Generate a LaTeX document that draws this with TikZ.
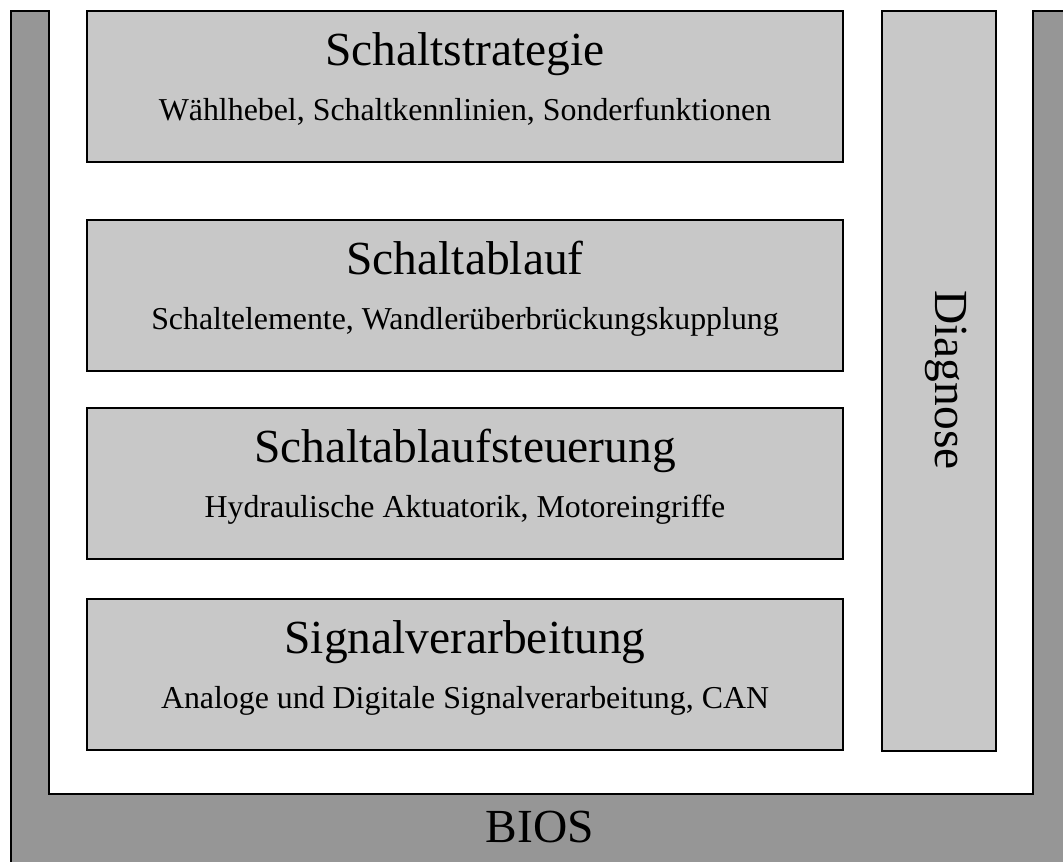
\documentclass[tikz,border=0pt]{standalone}
\usepackage{fontspec}
\setmainfont{Liberation Serif}
\usepackage{tikz}
\usetikzlibrary{positioning}

\begin{document}
\begin{tikzpicture}[
  x=0.75pt, y=-0.75pt,
  layerbox/.style={draw, line width=1.1pt, fill=lightgray, minimum width=567pt, minimum height=113.25pt, inner sep=0pt},
  sidebox/.style={draw, line width=1.1pt, fill=lightgray, minimum width=85.5pt, minimum height=555pt, inner sep=0pt},
  headline/.style={font=\fontsize{35.6}{40}\selectfont, anchor=base, inner sep=0pt},
  subline/.style={font=\fontsize{23.9}{28}\selectfont, anchor=base, inner sep=0pt},
]
  \definecolor{lightgray}{RGB}{200,200,200}
  \definecolor{darkgray}{RGB}{150,150,150}

  % Page frame
  \useasboundingbox (0,0) rectangle (1063,862);
  \clip (0,0) rectangle (1063,862);

  % BIOS frame round everything
  \draw [line width=1.5pt, fill=darkgray] (11,11) -- (49,11) -- (49,794) -- (1033,794) -- (1033,11)
    -- (1080,11) -- (1080,880) -- (11,880) -- cycle;
  \node (bios) [headline] at (540,842) {BIOS};

  % Layer boxes
  \node (strategie) [layerbox] at (465,86.5) {};
  \node (ablauf) [layerbox] at (465,295.5) {};
  \node (steuerung) [layerbox] at (465,483.5) {};
  \node (signal) [layerbox] at (465,674.5) {};

  % Layer texts
  \node (strategietitle) [headline] at ([yshift=-41.25pt]strategie.north) {Schaltstrategie};
  \node (strategiesub) [subline] at ([yshift=-82.5pt]strategie.north) {Wählhebel, Schaltkennlinien, Sonderfunktionen};
  \node (ablauftitle) [headline] at ([yshift=-41.25pt]ablauf.north) {Schaltablauf};
  \node (ablaufsub) [subline] at ([yshift=-82.5pt]ablauf.north) {Schaltelemente, Wandlerüberbrückungskupplung};
  \node (steuerungtitle) [headline] at ([yshift=-41.25pt]steuerung.north) {Schaltablaufsteuerung};
  \node (steuerungsub) [subline] at ([yshift=-82.5pt]steuerung.north) {Hydraulische Aktuatorik, Motoreingriffe};
  \node (signaltitle) [headline] at ([yshift=-41.25pt]signal.north) {Signalverarbeitung};
  \node (signalsub) [subline] at ([yshift=-82.5pt]signal.north) {Analoge und Digitale Signalverarbeitung, CAN};

  % Diagnosis column
  \node (diagnose) [sidebox] at (939,381) {};
  \node (diagnosetitle) [headline, rotate=-90] at (935,380) {Diagnose};

\end{tikzpicture}
\end{document}
